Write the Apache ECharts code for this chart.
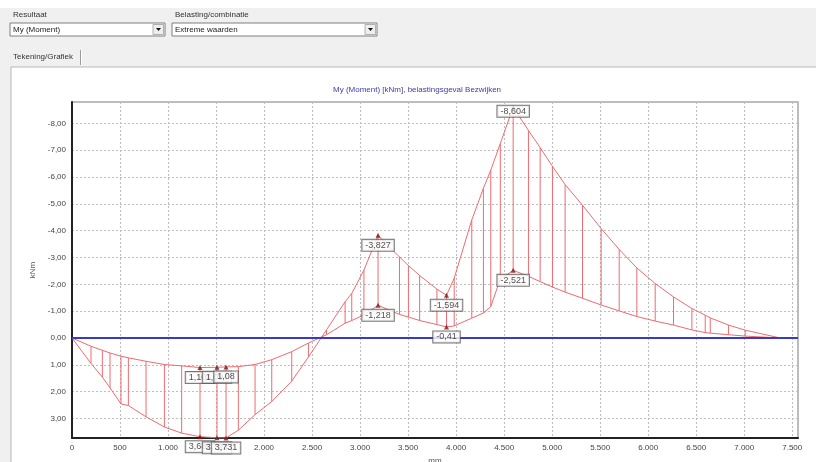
<!DOCTYPE html>
<html>
<head>
<meta charset="utf-8">
<script src="https://cdn.jsdelivr.net/npm/echarts@6/dist/echarts.min.js"></script>
<style>html,body{margin:0;padding:0;background:#f0f0f0;}#c{width:816px;height:462px;}</style>
</head>
<body>
<div id="c"></div>
<script>
// ---- data (positions along beam in mm, moments in kNm) ----
const xPos = [0,198,316,396,510,587,771,962,1142,1333,1510,1604,1732,1906,2080,2288,2462,2650,2844,2913,3040,3187,3410,3503,3620,3800,3900,3980,4163,4284,4361,4460,4594,4753,4875,5003,5135,5316,5510,5698,5882,6073,6264,6455,6594,6646,6837,7010,7375];
const momentA = [0,0.95,1.46,1.86,2.46,2.52,2.94,3.32,3.55,3.682,3.724,3.731,3.44,2.86,2.37,1.61,0.71,-0.30,-1.35,-1.66,-2.53,-3.827,-3.02,-2.70,-2.33,-1.82,-1.594,-2.23,-4.40,-5.58,-6.26,-7.25,-8.604,-7.74,-7.10,-6.40,-5.72,-4.95,-4.08,-3.30,-2.61,-2.03,-1.53,-1.10,-0.85,-0.75,-0.48,-0.29,0];
const momentB = [0,0.31,0.46,0.56,0.68,0.74,0.87,0.99,1.04,1.104,1.094,1.08,1.07,0.99,0.81,0.51,0.19,-0.12,-0.55,-0.65,-0.86,-1.218,-0.88,-0.78,-0.65,-0.50,-0.41,-0.45,-0.74,-0.93,-1.17,-2.20,-2.521,-2.30,-2.10,-1.90,-1.71,-1.48,-1.23,-1.01,-0.80,-0.63,-0.48,-0.30,-0.20,-0.18,-0.12,-0.07,0];
// labelled extreme values
const peakX = [1333,1510,1604,1333,1510,1604,3187,3187,3900,3900,4594,4594];
const peakY = [1.104,1.094,1.08,3.682,3.724,3.731,-3.827,-1.218,-1.594,-0.41,-8.604,-2.521];
const peakText = ['1,104','1,094','1,08','3,682','3,724','3,731','-3,827','-1,218','-1,594','-0,41','-8,604','-2,521'];
const titleText = 'My (Moment) [kNm], belastingsgeval Bezwijken';
const yName = 'kNm';
const xName = 'mm';
const uiResultLabel = 'Resultaat';
const uiResultValue = 'My (Moment)';
const uiLoadLabel = 'Belasting/combinatie';
const uiLoadValue = 'Extreme waarden';
const uiTab = 'Tekening/Grafiek';

const FONT = 'Liberation Sans, Arial, sans-serif';
const RED = '#ee6b70';

function fmtX(v){
  if (v >= 1000) return Math.floor(v/1000) + '.' + String(v % 1000).padStart(3,'0');
  return String(v);
}
function fmtY(v){ return v.toFixed(2).replace('.', ','); }

const chart = echarts.init(document.getElementById('c'), null, {renderer:'canvas'});

function combo(x, w, label, value){
  return [
    {type:'text', z:-5, style:{x:x+3, y:15, text:label, font:'8px '+FONT, fill:'#333', textVerticalAlign:'middle'}},
    {type:'rect', z:-5, shape:{x:x, y:23, width:w, height:13}, style:{fill:'#fff', stroke:'#7f7f7f', lineWidth:1}},
    {type:'rect', z:-4, shape:{x:x+w-12, y:24.5, width:10.5, height:10}, style:{fill:'#eeeeee', stroke:'#b0b0b0', lineWidth:1}},
    {type:'polygon', z:-3, shape:{points:[[x+w-9,28],[x+w-4,28],[x+w-6.5,31]]}, style:{fill:'#111'}},
    {type:'text', z:-4, style:{x:x+3, y:29.5, text:value, font:'8px '+FONT, fill:'#222', textVerticalAlign:'middle'}}
  ];
}

const minIdx = peakY.indexOf(Math.min(...peakY));

const option = {
  backgroundColor: '#f0f0f0',
  animation: false,
  textStyle: {fontFamily: FONT},
  title: {
    text: titleText, left: 333, top: 86, padding: 0,
    textStyle: {fontSize: 8, fontWeight: 'normal', color: '#3c3ca8', fontFamily: FONT}
  },
  graphic: [
    {type:'rect', z:-10, shape:{x:0, y:0, width:816, height:8}, style:{fill:'#ffffff'}},
    {type:'rect', z:-10, shape:{x:11, y:67, width:810, height:400}, style:{fill:'#ffffff', stroke:'#b8b8b8', lineWidth:1}},
    ...combo(10, 155, uiResultLabel, uiResultValue),
    ...combo(172, 205, uiLoadLabel, uiLoadValue),
    {type:'text', z:-5, style:{x:13, y:57, text:uiTab, font:'8px '+FONT, fill:'#333', textVerticalAlign:'middle'}},
    {type:'line', z:-5, shape:{x1:80.5, y1:50, x2:80.5, y2:65}, style:{stroke:'#9a9a9a', lineWidth:1}},
    {type:'line', z:-5, shape:{x1:81.5, y1:50, x2:81.5, y2:65}, style:{stroke:'#ffffff', lineWidth:1}}
  ],
  grid: {left: 72, right: 18, top: 102, bottom: 24, show: true, borderColor: '#a8a8a8', borderWidth: 1.5, backgroundColor: 'transparent', containLabel: false, outerBoundsMode: 'none'},
  xAxis: {
    type: 'value', min: 0, max: 7560, interval: 500,
    name: xName, nameLocation: 'middle', nameGap: 17,
    nameTextStyle: {fontSize: 8, color: '#555', fontFamily: FONT},
    axisLine: {show: true, onZero: false, lineStyle: {color: '#222', width: 2}},
    axisTick: {show: false},
    axisLabel: {fontSize: 8, color: '#444', margin: 6, fontFamily: FONT, showMaxLabel: false, formatter: fmtX, hideOverlap: false},
    splitLine: {show: true, lineStyle: {color: '#bdbdbd', type: [2,2], width: 1}}
  },
  yAxis: {
    type: 'value', inverse: true, min: -8.8, max: 3.731, splitNumber: 12,
    name: yName, nameLocation: 'middle', nameGap: 28,
    nameTextStyle: {fontSize: 8, color: '#555', fontFamily: FONT},
    axisLine: {show: true, lineStyle: {color: '#222', width: 2}},
    axisTick: {show: false},
    axisLabel: {fontSize: 8, color: '#444', margin: 6, fontFamily: FONT, showMinLabel: false, showMaxLabel: false, formatter: fmtY, hideOverlap: false},
    splitLine: {show: true, lineStyle: {color: '#bdbdbd', type: [2,2], width: 1}}
  },
  series: [
    {
      type: 'custom', z: 2, silent: true,
      renderItem: function(params, api){
        const x = api.value(0);
        const p1 = api.coord([x, api.value(1)]);
        const p2 = api.coord([x, api.value(2)]);
        return {type:'line', shape:{x1:p1[0], y1:p1[1], x2:p2[0], y2:p2[1]}, style:{stroke: RED, lineWidth: 1}};
      },
      encode: {x: 0, y: [1, 2]},
      data: xPos.map((x, i) => [x, momentA[i], momentB[i]])
    },
    {
      type: 'line', z: 3, silent: true, showSymbol: false, symbol: 'none',
      lineStyle: {color: RED, width: 1},
      data: xPos.map((x, i) => [x, momentA[i]])
    },
    {
      type: 'line', z: 3, silent: true, showSymbol: false, symbol: 'none',
      lineStyle: {color: RED, width: 1},
      data: xPos.map((x, i) => [x, momentB[i]])
    },
    {
      type: 'line', z: 4, data: [], silent: true,
      markLine: {
        silent: true, symbol: 'none', animation: false,
        label: {show: false},
        lineStyle: {color: '#3a3ac8', width: 2, type: 'solid'},
        data: [{yAxis: 0}]
      }
    },
    {
      type: 'scatter', z: 6, silent: true,
      symbol: 'triangle', symbolSize: 5,
      itemStyle: {color: '#7a1a1a'},
      label: {
        show: true, position: 'bottom', distance: 2,
        formatter: p => p.data.value[2],
        fontSize: 9, lineHeight: 9, color: '#222', fontFamily: FONT,
        backgroundColor: '#ffffff', borderColor: '#555', borderWidth: 1, padding: [1, 3]
      },
      data: peakX.map((x, i) => i === minIdx
        ? {value: [x, peakY[i], peakText[i]], label: {distance: -4}}
        : {value: [x, peakY[i], peakText[i]]})
    }
  ]
};
chart.setOption(option);
</script>
</body>
</html>
